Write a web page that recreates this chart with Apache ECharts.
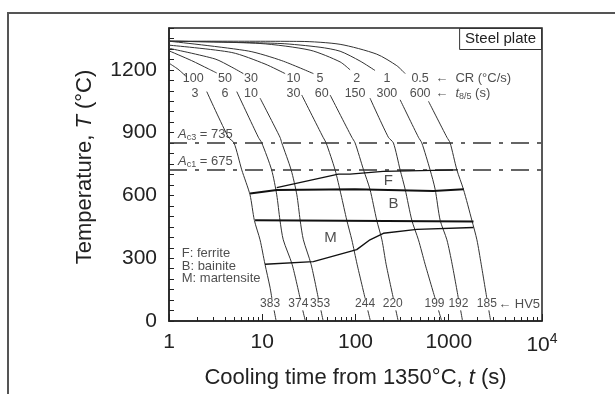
<!DOCTYPE html>
<html><head><meta charset="utf-8">
<script src="https://cdn.jsdelivr.net/npm/echarts@6/dist/echarts.min.js"></script>
<style>html,body{margin:0;padding:0;background:#fff}#c{width:615px;height:394px}</style>
</head><body><div id="c"></div>
<script>
// ---------------- data ----------------
const xTickValues = [1, 10, 100, 1000, 10000];
const yTickValues = [0, 300, 600, 900, 1200];
const coolingRates = ['100', '50', '30', '10', '5', '2', '1', '0.5'];
const t85Values = ['3', '6', '10', '30', '60', '150', '300', '600'];
const hv5Values = ['383', '374', '353', '244', '220', '199', '192', '185'];

// cooling curves [t (s), T (°C)]; null marks where a label interrupts the curve
const curveCR100 = [[1,1232],[1.25,1203],[1.55,1166], null,
  [2.54,1096],[4.33,878],[4.98,851],[6.03,722],[7.39,603],[8.23,481],[9.47,388],[10.7,271],[12.1,162],[12.7,107], null,
  [13.4,51],[14.1,0]];
const curveCR50 = [[1,1291],[1.75,1244],[2.64,1205],[3.25,1185], null,
  [5.33,1096],[9.08,878],[9.88,851],[12.6,722],[14.3,603],[15.5,481],[16.8,388],[20.9,271],[25.5,107], null,
  [27.2,51],[29,0]];
const curveCR30 = [[1,1303],[3.12,1252],[4.71,1213],[6.27,1182], null,
  [9.47,1065],[15.5,878],[16.2,851],[20.4,722],[23.5,603],[25.5,481],[27.6,388],[33.4,271],[40,107], null,
  [42.6,51],[45,0]];
const curveCR10 = [[1,1318],[4.71,1283],[10.7,1228],[17.6,1182], null,
  [26.5,1080],[44.9,878],[48.4,851],[60.4,722],[70,603],[80.7,481],[91.3,388],[104,271],[127,107], null,
  [135.5,51],[144.5,0]];
const curveCR5 = [[1,1337],[7.09,1290],[16.2,1244],[35.4,1182], null,
  [53.4,1080],[91.3,878],[99,851],[122,722],[143,629],[169,481],[192,388],[213,271],[255,107], null,
  [271,51],[287,0]];
const curveCR2 = [[1,1337],[9.47,1326],[32.6,1294],[68.4,1238],[87.5,1200], null,
  [143,1065],[225,878],[255,851],[301,722],[341,629],[402,481],[473,388],[558,271],[715,107], null,
  [777,51],[841,0]];
const curveCR1 = [[1,1337],[15.5,1326],[41.7,1308],[68.4,1289],[112,1242],[162,1197], null,
  [301,1057],[473,878],[514,851],[631,722],[715,629],[809,481],[955,388],[1088,271],[1270,107], null,
  [1342,51],[1406,0]];
const curveCR05 = [[1,1337],[25.4,1336],[68.4,1322],[169,1275],[277,1220],[341,1182], null,
  [606,1050],[955,878],[1035,851],[1222,722],[1438,629],[1770,481],[2004,388],[2229,271],[2564,107], null,
  [2692,51],[2815,0]];

const ac3Level = 851;   // dash-dot line as drawn
const ac1Level = 722;

const ferriteStart   = [[14.3,637],[65.5,702],[87.4,702],[197.6,715],[1250,722]];
const ferriteBainite = [[7.4,609],[14.3,626],[98.6,629],[680,621],[1450,629]];
const bainiteMart    = [[8.37,481],[1842,476]];
const martensiteLine = [[10.7,271],[35.3,283.5],[103,341],[143,388],[199,419],[455,438],[1842,447]];

// annotation anchors in data units [t, T]
const crLabelAt  = [[1.82,1158],[3.99,1158],[7.58,1158],[21.6,1158],[41.7,1158],[103,1158],[217,1158],[493,1158]];
const t85LabelAt = [[1.90,1088],[3.99,1088],[7.58,1088],[21.6,1088],[43.5,1088],[99,1088],[217,1088],[493,1088]];
const hvLabelAt  = [[12.13,81],[24.4,81],[41.7,81],[126.8,81],[251,81],[703,81],[1271,81],[2564,81]];

// ---------------- chart ----------------
const FONT = 'Liberation Sans, Arial, Helvetica, sans-serif';
const INK = '#222';
const chart = echarts.init(document.getElementById('c'), null, {renderer: 'canvas'});

const curves = [curveCR100, curveCR50, curveCR30, curveCR10, curveCR5, curveCR2, curveCR1, curveCR05];
const series = [];

function splitSegments(arr) {
  const segs = [[]];
  arr.forEach(p => { if (p === null) segs.push([]); else segs[segs.length - 1].push(p); });
  return segs;
}
curves.forEach(c => splitSegments(c).forEach(seg => series.push({
  type: 'line', data: seg, symbol: 'none', smooth: 0.25, silent: true,
  lineStyle: {color: '#333', width: 1}
})));

[ac3Level, ac1Level].forEach(lv => series.push({
  type: 'line', data: [[1, lv], [10000, lv]], symbol: 'none', silent: true,
  lineStyle: {color: '#333', width: 1.5, type: [18, 8, 4, 8]}
}));

[[ferriteStart, 1.4], [ferriteBainite, 2], [bainiteMart, 2], [martensiteLine, 1.4]].forEach(([d, w]) => series.push({
  type: 'line', data: d, symbol: 'none', silent: true, z: 3,
  lineStyle: {color: '#111', width: w}
}));

function textSeries(items, label) {
  return {
    type: 'scatter', symbolSize: 0, silent: true, z: 5,
    data: items,
    label: Object.assign({show: true, position: 'inside', formatter: p => p.name,
      color: INK, fontSize: 13, fontFamily: FONT}, label)
  };
}
series.push(textSeries(coolingRates.map((s, i) => ({name: s, value: crLabelAt[i]})), {fontSize: 12.5}));
series.push(textSeries(t85Values.map((s, i) => ({name: s, value: t85LabelAt[i]})), {fontSize: 12.5}));
series.push(textSeries(hv5Values.map((s, i) => ({name: s, value: hvLabelAt[i]})), {fontSize: 12}));
series.push(textSeries([
  {name: '\u2190  CR (°C/s)', value: [715, 1158]},
  {name: '\u2190  {i|t}{s|8/5} (s)', value: [715, 1088]},
  {name: '\u2190 HV5', value: [3388, 81]}
], {align: 'left', rich: {
  i: {fontStyle: 'italic', fontSize: 13, fontFamily: FONT, color: INK},
  s: {fontSize: 9, fontFamily: FONT, color: INK, padding: [6, 0, 0, 0]}
}}));
series.push(textSeries([
  {name: '{i|A}{s|c3}{n| = 735}', value: [1.25, 893]},
  {name: '{i|A}{s|c1}{n| = 675}', value: [1.25, 761]}
], {align: 'left', rich: {
  i: {fontStyle: 'italic', fontSize: 13, fontFamily: FONT, color: INK},
  s: {fontSize: 9, fontFamily: FONT, color: INK, padding: [6, 0, 0, 0]},
  n: {fontSize: 13, fontFamily: FONT, color: INK}
}}));
series.push(textSeries([
  {name: 'F', value: [225, 668]},
  {name: 'B', value: [255, 559]},
  {name: 'M', value: [54, 395]}
], {fontSize: 15}));
series.push(textSeries([
  {name: 'F: ferrite', value: [1.37, 325]},
  {name: 'B: bainite', value: [1.37, 263]},
  {name: 'M: martensite', value: [1.37, 204]}
], {align: 'left'}));

const minorTicks = [];
[1, 10, 100, 1000].forEach(d => { for (let k = 2; k <= 9; k++) minorTicks.push(k * d); });

chart.setOption({
  animation: false,
  backgroundColor: '#fff',
  textStyle: {fontFamily: FONT},
  title: {
    text: 'Steel plate', right: 73, top: 28, padding: [3, 6, 3, 6],
    borderColor: '#333', borderWidth: 1,
    textStyle: {fontSize: 15, fontWeight: 'normal', color: INK, fontFamily: FONT, lineHeight: 16}
  },
  grid: {left: 169, right: 73, top: 28, bottom: 66, show: true, borderColor: '#222', borderWidth: 1.5, backgroundColor: 'transparent'},
  xAxis: [{
    type: 'log', logBase: 10, min: 1, max: 10000, position: 'bottom',
    name: 'Cooling time from 1350°C, {i|t} (s)', nameLocation: 'middle', nameGap: 46,
    nameTextStyle: {fontSize: 22, color: INK, fontFamily: FONT, rich: {i: {fontStyle: 'italic', fontSize: 22, fontFamily: FONT, color: INK}}},
    axisLine: {lineStyle: {color: '#222', width: 1.5}},
    axisTick: {inside: true, length: 7, lineStyle: {color: '#222', width: 1}},
    splitLine: {show: false},
    axisLabel: {
      margin: 11, fontSize: 21, color: INK, fontFamily: FONT,
      formatter: v => (v === xTickValues[4] ? '{b|10}{s|4}' : String(v)),
      rich: {b: {fontSize: 21, fontFamily: FONT, color: INK}, s: {fontSize: 14, fontFamily: FONT, color: INK, padding: [0, 0, 12, 0]}}
    }
  }, {
    type: 'log', logBase: 10, min: 1, max: 10000, position: 'bottom',
    axisLine: {show: false}, axisLabel: {show: false}, splitLine: {show: false},
    axisTick: {show: true, inside: true, length: 4, customValues: minorTicks, lineStyle: {color: '#222', width: 1}}
  }],
  yAxis: {
    type: 'value', min: 0, max: 1400, interval: 50,
    axisLine: {show: true, lineStyle: {color: '#222', width: 1.5}},
    axisTick: {show: true, inside: true, length: 5, lineStyle: {color: '#222', width: 1}},
    splitLine: {show: false},
    axisLabel: {margin: 12, fontSize: 21, color: INK, fontFamily: FONT,
      formatter: v => (yTickValues.indexOf(v) >= 0 ? String(v) : '')}
  },
  graphic: [
    {type: 'rect', shape: {x: 8, y: 13, width: 800, height: 600}, style: {fill: 'none', stroke: '#555', lineWidth: 2}, silent: true},
    {type: 'text', x: 85, y: 167, rotation: Math.PI / 2, silent: true,
      style: {text: 'Temperature, {i|T} (°C)', fontSize: 22, fontFamily: FONT, fill: INK, align: 'center', verticalAlign: 'middle',
        rich: {i: {fontStyle: 'italic', fontSize: 22, fontFamily: FONT, fill: INK}}}}
  ],
  series: series
});
</script>
</body></html>
